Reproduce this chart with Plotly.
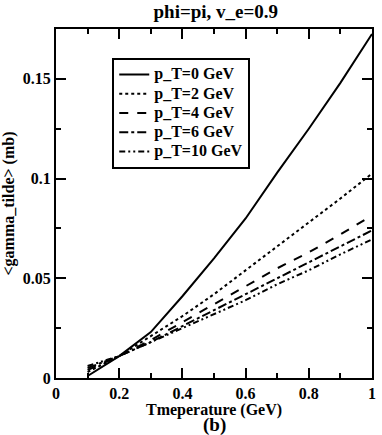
import plotly.graph_objects as go

temp = [0.1, 0.2, 0.3, 0.4, 0.5, 0.6, 0.7, 0.8, 0.9, 1.0]

pt0 = [0.001, 0.011, 0.023, 0.041, 0.060, 0.080, 0.103, 0.125, 0.148, 0.1725]
pt2 = [0.003, 0.011, 0.021, 0.031, 0.042, 0.054, 0.066, 0.078, 0.090, 0.1025]
pt4 = [0.004, 0.011, 0.019, 0.028, 0.037, 0.046, 0.055, 0.063, 0.072, 0.0815]
pt6 = [0.005, 0.011, 0.018, 0.026, 0.034, 0.042, 0.050, 0.058, 0.066, 0.074]
pt10 = [0.006, 0.011, 0.018, 0.025, 0.032, 0.039, 0.047, 0.054, 0.062, 0.0695]

names = ["p_T=0 GeV", "p_T=2 GeV", "p_T=4 GeV", "p_T=6 GeV", "p_T=10 GeV"]
series = [pt0, pt2, pt4, pt6, pt10]
dashes = ["solid", "dot", "dash", "dashdot", "6px,3px,2px,3px,2px,3px"]

xticks = [0, 0.2, 0.4, 0.6, 0.8, 1]
xlabels = ["0", "0.2", "0.4", "0.6", "0.8", "1"]
yticks = [0, 0.05, 0.1, 0.15]
ylabels = ["0", "0.05", "0.1", "0.15"]

serif = "Liberation Serif"

fig = go.Figure()
for nm, ys, d in zip(names, series, dashes):
    # small legend font keeps rows tight, the span makes the text itself bigger
    label = '<span style="font-size:16px"><b>' + nm + '</b></span>'
    fig.add_trace(go.Scatter(x=temp, y=ys, mode="lines", name=label,
                             line=dict(color="black", width=2, dash=d)))

axis_common = dict(
    showline=True, linecolor="black", linewidth=2, mirror="allticks",
    ticks="inside", ticklen=10, tickwidth=2, tickcolor="black",
    showgrid=False, zeroline=False,
    tickfont=dict(family=serif, size=16, color="black"),
)

fig.update_xaxes(range=[0, 1], tickvals=xticks,
                 ticktext=["<b>" + t + "</b>" for t in xlabels],
                 minor=dict(dtick=0.1, ticks="inside", ticklen=5, tickwidth=2, tickcolor="black"),
                 **axis_common)
fig.update_yaxes(range=[0, 0.175], tickvals=yticks,
                 ticktext=["<b>" + t + "</b>" for t in ylabels],
                 minor=dict(dtick=0.025, tick0=0, ticks="inside", ticklen=5, tickwidth=2, tickcolor="black"),
                 title=dict(text="<b><gamma_tilde> (mb)</b>", standoff=4,
                            font=dict(family=serif, size=16, color="black")),
                 **axis_common)

fig.update_layout(
    width=382, height=435,
    margin=dict(l=56, r=6, t=29, b=57),
    paper_bgcolor="white", plot_bgcolor="white",
    title=dict(text="<b>phi=pi, v_e=0.9</b>", x=0.565, xanchor="center", y=0.99, yanchor="top",
               font=dict(family=serif, size=19, color="black")),
    showlegend=True,
    legend=dict(x=0.178, y=0.917, xanchor="left", yanchor="top",
                bgcolor="white", bordercolor="black", borderwidth=2,
                font=dict(family=serif, size=12.5, color="black"),
                itemwidth=30, tracegroupgap=0),
    annotations=[
        dict(text="<b>Tmeperature (GeV)</b>", x=0.5, y=0, xref="paper", yref="paper",
             xanchor="center", yanchor="middle", yshift=-32, showarrow=False,
             font=dict(family=serif, size=16, color="black")),
        dict(text="<b>(b)</b>", x=0.5, y=0, xref="paper", yref="paper",
             xanchor="center", yanchor="middle", yshift=-47, showarrow=False,
             font=dict(family=serif, size=19, color="black")),
    ],
)

fig.write_html("out.html", config={"displayModeBar": False},
               post_script="document.body.style.margin='0';")
